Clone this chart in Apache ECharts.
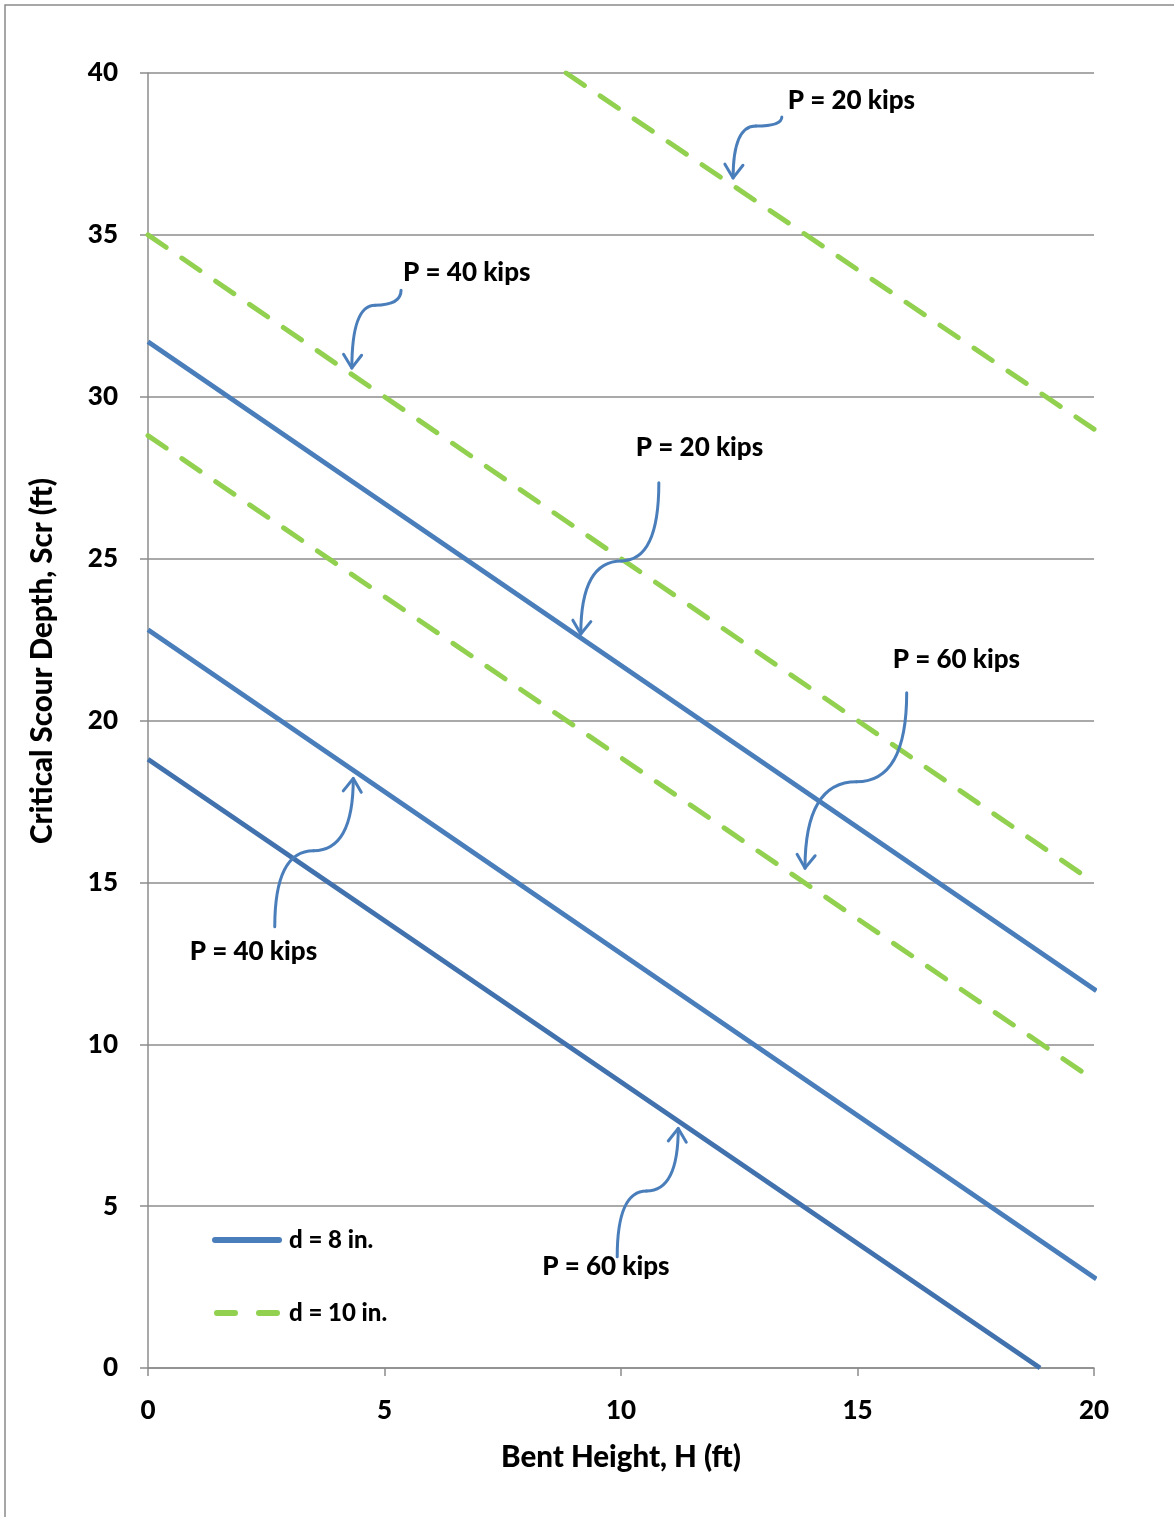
<!DOCTYPE html>
<html>
<head>
<meta charset="utf-8">
<script src="https://cdn.jsdelivr.net/npm/echarts@6/dist/echarts.min.js"></script>
<style>
html,body{margin:0;padding:0;background:#fff;}
#chart{width:1174px;height:1517px;}
</style>
</head>
<body>
<div id="chart"></div>
<script>
// Tick values
const xTicks = [0, 5, 10, 15, 20];
const yTicks = [0, 5, 10, 15, 20, 25, 30, 35, 40];

// d = 8 in. (solid blue) lines : [H, Scr]
const d8_P20 = [[0, 31.7], [20.05, 11.65]];
const d8_P40 = [[0, 22.8], [20.05, 2.75]];
const d8_P60 = [[0, 18.8], [18.86, 0]];

// d = 10 in. (dashed green) lines : [H, Scr]
const d10_P20 = [[8.84, 40], [20, 29.0]];
const d10_P40 = [[0, 35.0], [20, 15.0]];
const d10_P60 = [[0, 28.8], [20, 8.9]];

// Annotations (data coordinates)
const annText = ['P = 20 kips', 'P = 40 kips', 'P = 20 kips', 'P = 60 kips', 'P = 40 kips', 'P = 60 kips'];
const annLabelPos = [[14.87, 39.15], [6.74, 33.82], [11.66, 28.42], [17.09, 21.89], [2.23, 12.86], [9.68, 3.13]];
const annStart = [[13.40, 38.64], [5.35, 33.29], [10.80, 27.34], [16.04, 20.86], [2.68, 13.63], [9.92, 3.44]];
const annMid = [[12.85, 38.36], [4.80, 32.83], [10.01, 24.93], [14.98, 18.11], [3.50, 15.98], [10.54, 5.47]];
const annTip = [[12.37, 36.76], [4.31, 30.89], [9.15, 22.67], [13.89, 15.44], [4.34, 18.21], [11.21, 7.40]];

const FONT = 'Lato';
const WEIGHT = 900;
const BLUE = '#4a7ebb';
const BLUE_DARK = '#4272ae';
const GREEN = '#92d050';
const GRID = '#8c8c8c';

const chart = echarts.init(document.getElementById('chart'), null, {renderer: 'canvas'});

function solid(name, data, color) {
  return {
    name: name, type: 'line', data: data, showSymbol: false, symbol: 'none',
    clip: false, silent: true, animation: false,
    lineStyle: {color: color, width: 4.8, cap: 'butt'},
    itemStyle: {color: color}
  };
}
function dashed(name, data) {
  return {
    name: name, type: 'line', data: data, showSymbol: false, symbol: 'none',
    clip: true, silent: true, animation: false,
    lineStyle: {color: GREEN, width: 5, type: [22, 19], cap: 'round'},
    itemStyle: {color: GREEN}
  };
}

const annData = annText.map((t, i) => ({
  name: t,
  value: [annStart[i][0], annStart[i][1], annMid[i][0], annMid[i][1],
          annTip[i][0], annTip[i][1], annLabelPos[i][0], annLabelPos[i][1]]
}));

const annSeries = {
  type: 'custom', name: 'annotations', silent: true, animation: false, clip: false,
  data: annData,
  encode: {x: [0, 2, 4, 6], y: [1, 3, 5, 7]},
  z: 10,
  renderItem: function (params, api) {
    const s = api.coord([api.value(0), api.value(1)]);
    const m = api.coord([api.value(2), api.value(3)]);
    const e = api.coord([api.value(4), api.value(5)]);
    const l = api.coord([api.value(6), api.value(7)]);
    const c1 = [s[0], m[1]];
    const c2 = [e[0], m[1]];
    const t = 0.75;
    const px = (1 - t) * (1 - t) * m[0] + 2 * (1 - t) * t * c2[0] + t * t * e[0];
    const py = (1 - t) * (1 - t) * m[1] + 2 * (1 - t) * t * c2[1] + t * t * e[1];
    let dx = e[0] - px, dy = e[1] - py;
    const len = Math.sqrt(dx * dx + dy * dy) || 1;
    dx /= len; dy /= len;
    const ah = 16, ang = 0.6;
    const cos = Math.cos(ang), sin = Math.sin(ang);
    const b1 = [e[0] - ah * (dx * cos - dy * sin), e[1] - ah * (dy * cos + dx * sin)];
    const b2 = [e[0] - ah * (dx * cos + dy * sin), e[1] - ah * (dy * cos - dx * sin)];
    const ls = {stroke: BLUE, lineWidth: 3, fill: null, lineCap: 'round', lineJoin: 'round'};
    return {
      type: 'group',
      children: [
        {type: 'bezierCurve', shape: {x1: s[0], y1: s[1], cpx1: c1[0], cpy1: c1[1], x2: m[0], y2: m[1]}, style: ls},
        {type: 'bezierCurve', shape: {x1: m[0], y1: m[1], cpx1: c2[0], cpy1: c2[1], x2: e[0], y2: e[1]}, style: ls},
        {type: 'polyline', shape: {points: [b1, e, b2]}, style: ls},
        {type: 'text', x: l[0], y: l[1], style: {
          text: annText[params.dataIndex], x: 0, y: 0, align: 'center', verticalAlign: 'middle',
          font: WEIGHT + ' 26px ' + FONT, fill: '#000'
        }}
      ]
    };
  }
};

const option = {
  backgroundColor: '#fff',
  animation: false,
  grid: {left: 148, right: 80, top: 73, bottom: 149, containLabel: false},
  xAxis: {
    type: 'value', min: 0, max: 20, interval: 5,
    axisLine: {show: true, onZero: false, lineStyle: {color: GRID, width: 1.5}},
    axisTick: {show: true, length: 8, lineStyle: {color: GRID, width: 1.5}},
    splitLine: {show: false},
    axisLabel: {fontFamily: FONT, fontWeight: WEIGHT, fontSize: 26, color: '#000', margin: 30},
    name: 'Bent Height, H (ft)', nameLocation: 'middle', nameGap: 74,
    nameTextStyle: {fontFamily: FONT, fontWeight: WEIGHT, fontSize: 29.5, color: '#000'}
  },
  yAxis: {
    type: 'value', min: 0, max: 40, interval: 5,
    axisLine: {show: true, onZero: false, lineStyle: {color: GRID, width: 1.5}},
    axisTick: {show: true, length: 8, lineStyle: {color: GRID, width: 1.5}},
    splitLine: {show: true, lineStyle: {color: GRID, width: 1.5}},
    axisLabel: {fontFamily: FONT, fontWeight: WEIGHT, fontSize: 26, color: '#000', margin: 30}
  },
  legend: {
    orient: 'vertical', left: 207, top: 1223, itemWidth: 70, itemHeight: 6, itemGap: 49,
    itemStyle: {borderWidth: 0},
    data: [
      {name: 'd = 8 in.', icon: 'path://M3,0 H67 A3,3 0 0 1 67,6 H3 A3,3 0 0 1 3,0 Z'},
      {name: 'd = 10 in.', icon: 'path://M3,0 H21 A3,3 0 0 1 21,6 H3 A3,3 0 0 1 3,0 Z M45,0 H63 A3,3 0 0 1 63,6 H45 A3,3 0 0 1 45,0 Z'}
    ],
    textStyle: {fontFamily: FONT, fontWeight: WEIGHT, fontSize: 24, color: '#000', lineHeight: 24, padding: [0, 0, 0, 2]},
    selectedMode: false
  },
  graphic: [
    {type: 'rect', shape: {x: 5, y: 5, width: 1300, height: 1700}, style: {fill: null, stroke: '#8a8a8a', lineWidth: 1.5}, silent: true, z: -10},
    {type: 'text', x: 42, y: 661, rotation: Math.PI / 2, style: {
      text: 'Critical Scour Depth, Scr (ft)', x: 0, y: 0, align: 'center', verticalAlign: 'middle',
      font: WEIGHT + ' 29.5px ' + FONT, fill: '#000'
    }}
  ],
  series: [
    solid('d = 8 in.', d8_P20, BLUE),
    solid('d = 8 in.', d8_P40, BLUE),
    solid('d = 8 in.', d8_P60, BLUE_DARK),
    dashed('d = 10 in.', d10_P20),
    dashed('d = 10 in.', d10_P40),
    dashed('d = 10 in.', d10_P60),
    annSeries
  ]
};
chart.setOption(option);
</script>
</body>
</html>
